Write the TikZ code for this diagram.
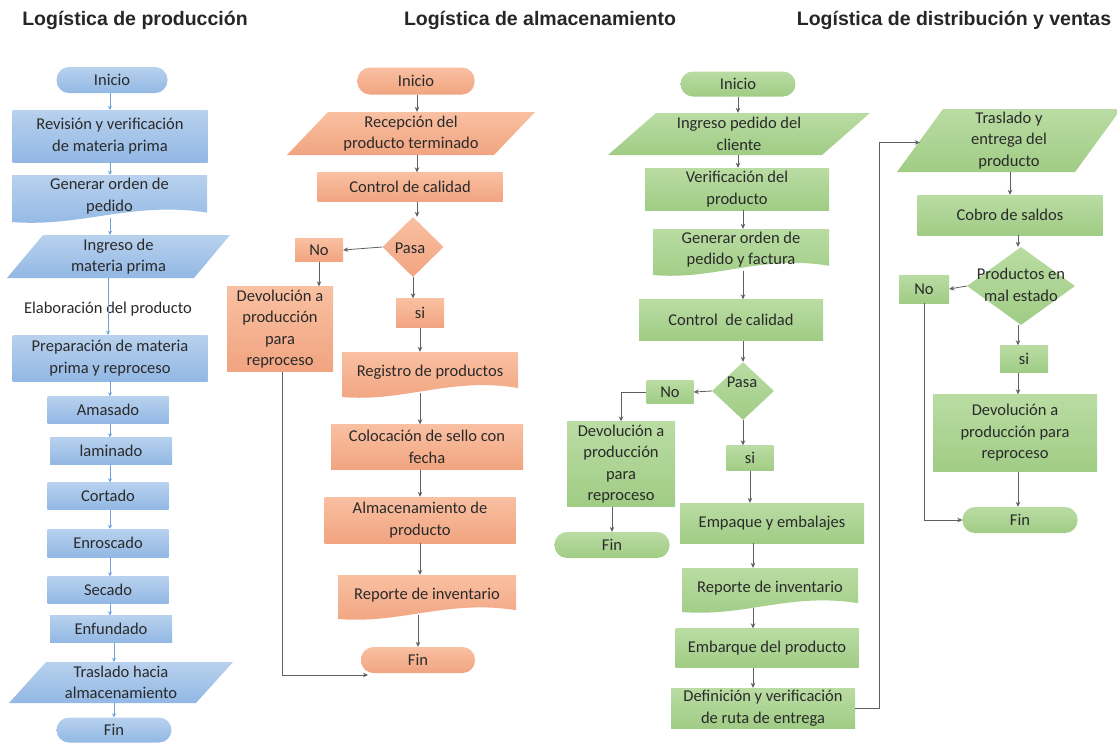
\documentclass[tikz,border=0pt]{standalone}
\usepackage{fontspec}
\setmainfont{Carlito}
\newfontfamily\titlefont{Liberation Sans}
\usetikzlibrary{shapes.geometric,arrows.meta,calc}
\definecolor{bluetop}{RGB}{184,209,238}
\definecolor{bluebot}{RGB}{146,184,228}
\definecolor{orgtop}{RGB}{249,192,162}
\definecolor{orgbot}{RGB}{241,164,128}
\definecolor{grntop}{RGB}{186,220,163}
\definecolor{grnbot}{RGB}{160,204,133}
\definecolor{txt}{RGB}{42,42,42}
\definecolor{lnk}{RGB}{95,95,95}
\definecolor{bluelnk}{RGB}{110,160,220}
\newcommand\mypara[8]{% name x0 y0 x1 y1 slant style text
  \shade[#7] ({#2+#6},#3) -- (#4,#3) -- ({#4-#6},#5) -- (#2,#5) -- cycle;
  \node[box,minimum width={#4-#2-#6},minimum height={#5-#3}] (#1) at ({(#2+#4)/2},{(#3+#5)/2}) {#8};}
\newcommand\mydoc[7]{% name x0 y0 x1 y1 style text
  \shade[#6] (#2,#3) -- (#4,#3) -- (#4,{#5-0.2*(#5-#3)})
    .. controls ({#2+0.62*(#4-#2)},{#5-0.45*(#5-#3)}) and ({#2+0.35*(#4-#2)},{#5+0.12*(#5-#3)}) .. (#2,#5) -- cycle;
  \node[box,minimum width={#4-#2},minimum height={0.9*(#5-#3)}] (#1) at ({(#2+#4)/2},{#3+0.45*(#5-#3)}) {#7};}
\begin{document}
\begin{tikzpicture}[x=1pt,y=-1pt,
  box/.style={rectangle,inner sep=0pt,align=center,text=txt,font=\fontsize{16.5}{21.5}\selectfont},
  bluef/.style={top color=bluetop,bottom color=bluebot},
  orgf/.style={top color=orgtop,bottom color=orgbot},
  grnf/.style={top color=grntop,bottom color=grnbot},
  rbox/.style={box,minimum width=#1},
  term/.style={box,rounded corners=12.5pt,minimum height=26,minimum width=#1},
  dia/.style={diamond,inner sep=0pt,aspect=1},
  ttl/.style={font=\titlefont\fontsize{19.5}{23}\selectfont\bfseries,text=black!85,inner sep=0pt},
  arr/.style={draw=lnk,line width=0.8pt,-{Stealth[length=5pt,width=4.5pt,fill=black]}},
  barr/.style={draw=bluelnk,line width=0.7pt,-{Stealth[length=4pt,width=4pt]}}]
\useasboundingbox (0,0) rectangle (1117,744);
\fill[white] (0,0) rectangle (1117,744);

% titles
\node[ttl] (t1) at (135,20) {Logística de producción};
\node[ttl] (t2) at (540,20) {Logística de almacenamiento};
\node[ttl] (t3) at (954,20) {Logística de distribución y ventas};

% ---------- column 1 (blue) ----------
\node[term=111,bluef] (i1) at (112,80) {Inicio};
\node[rbox=195,minimum height=52,bluef] (b1) at (110,136) {Revisión y verificación\\de materia prima};
\mydoc{b2}{12}{175}{207}{222}{bluef}{Generar orden de\\pedido}
\mypara{b3}{7}{235}{230}{278}{36}{bluef}{Ingreso de\\materia prima}
\node[box] (el) at (108,309) {Elaboración del producto};
\node[rbox=195,minimum height=46,bluef] (b4) at (110,358) {Preparación de materia\\prima y reproceso};
\node[rbox=121,minimum height=27,bluef] (b5) at (108,410) {Amasado};
\node[rbox=122,minimum height=27,bluef] (b6) at (111,451) {laminado};
\node[rbox=121,minimum height=27,bluef] (b7) at (108,496) {Cortado};
\node[rbox=121,minimum height=28,bluef] (b8) at (108,543) {Enroscado};
\node[rbox=121,minimum height=27,bluef] (b9) at (108,590) {Secado};
\node[rbox=122,minimum height=27,bluef] (b10) at (111,629) {Enfundado};
\mypara{b11}{9}{662}{233}{703}{37}{bluef}{Traslado hacia\\almacenamiento}
\node[term=115,minimum height=25,bluef] (f1) at (114,730) {Fin};

\coordinate (cx1) at (110,0);
\draw[barr] (i1.south -| cx1) -- (b1.north -| cx1);
\draw[barr] (b1.south -| cx1) -- (b2.north -| cx1);
\draw[barr] (b2.south -| cx1) -- (b3.north -| cx1);
\draw[barr] (b3.south -| el) -- (b4.north -| el);
\draw[barr] (b4.south -| cx1) -- (b5.north -| cx1);
\draw[barr] (b5.south -| cx1) -- (b6.north -| cx1);
\draw[barr] (b6.south -| cx1) -- (b7.north -| cx1);
\draw[barr] (b7.south -| cx1) -- (b8.north -| cx1);
\draw[barr] (b8.south -| cx1) -- (b9.north -| cx1);
\draw[barr] (b9.south -| cx1) -- (b10.north -| cx1);
\draw[barr] (b10.south -| f1) -- (b11.north -| f1);
\draw[barr] (b11.south -| f1) -- (f1.north);

% ---------- column 2 (orange) ----------
\node[term=117,minimum height=27,orgf] (i2) at (416,81) {Inicio};
\mypara{o1}{287}{112}{535}{155}{41}{orgf}{Recepción del\\producto terminado}
\node[rbox=185,minimum height=29,orgf] (o2) at (410,187) {Control de calidad};
\node[dia,minimum width=61,minimum height=60,orgf] (o3) at (413,247) {};
\node[box] (o3t) at (410,248) {Pasa};
\node[rbox=48,minimum height=23,orgf] (o4) at (319,250) {No};
\node[rbox=106,minimum height=85,orgf] (o5) at (280,329) {Devolución a\\producción\\para\\reproceso};
\node[rbox=48,minimum height=29,orgf] (o6) at (420,313) {si};
\mydoc{o7}{342}{352}{518}{397}{orgf}{Registro de productos}
\node[rbox=192,minimum height=45,orgf] (o8) at (427,447) {Colocación de sello con\\fecha};
\node[rbox=191,minimum height=46,orgf] (o9) at (420,520) {Almacenamiento de\\producto};
\mydoc{o10}{338}{575}{516}{619}{orgf}{Reporte de inventario}
\node[term=114,orgf] (f2) at (418,660) {Fin};

\coordinate (cx2) at (417,0);
\coordinate (f2e) at (368,675);
\draw[arr] (i2.south -| cx2) -- (o1.north -| cx2);
\draw[arr] (o1.south -| cx2) -- (o2.north -| cx2);
\draw[arr] (o2.south -| cx2) -- (o3.north -| cx2);
\draw[arr] (o3.west) -- (o4.east);
\draw[arr] (o4.south) -- (o4.south |- o5.north);
\draw[arr] (o3.south) -- (o3.south |- o6.north);
\draw[arr] (o6.south) -- (o6.south |- o7.north);
\draw[arr] (o7.south -| o6) -- (o8.north -| o6);
\draw[arr] (o8.south -| o6) -- (o9.north -| o6);
\draw[arr] (o9.south -| o6) -- (o10.north -| o6);
\draw[arr] (o10.south -| f2) -- (f2.north);
\draw[arr] ([xshift=2pt]o5.south) |- (f2e);

% ---------- column 3 (green) ----------
\node[term=115,minimum height=25,grnf] (i3) at (738,84) {Inicio};
\mypara{g1}{608}{113}{870}{155}{48}{grnf}{Ingreso pedido del\\cliente}
\node[rbox=184,minimum height=42,grnf] (g2) at (737,189) {Verificación del\\producto};
\mydoc{g3}{653}{229}{829}{275}{grnf}{Generar orden de\\pedido y factura}
\node[rbox=184,minimum height=41,grnf] (g4) at (731,320) {Control\ \ de calidad};
\node[dia,minimum width=62,minimum height=58,grnf] (g5) at (743,391) {};
\node[box] (g5t) at (742,382) {Pasa};
\node[rbox=47,minimum height=23,grnf] (g6) at (670,392) {No};
\node[rbox=108,minimum height=85,grnf] (g7) at (621,464) {Devolución a\\producción\\para\\reproceso};
\node[term=115,grnf] (f3) at (612,545) {Fin};
\node[rbox=47,minimum height=25,grnf] (g8) at (750,458) {si};
\node[rbox=184,minimum height=40,grnf] (g9) at (772,523) {Empaque y embalajes};
\mydoc{g10}{682}{568}{858}{612}{grnf}{Reporte de inventario}
\node[rbox=183,minimum height=39,grnf] (g11) at (767,648) {Embarque del producto};
\node[rbox=184,minimum height=40,grnf] (g12) at (763,708) {Definición y verificación\\de ruta de entrega};

\coordinate (cx3) at (753,0);
\draw[arr] (i3.south) -- (i3.south |- g1.north);
\draw[arr] (g1.south -| i3) -- (g2.north -| i3);
\draw[arr] (g2.south -| g5) -- (g3.north -| g5);
\draw[arr] (g3.south -| g5) -- (g4.north -| g5);
\draw[arr] (g4.south -| g5) -- (g5.north);
\draw[arr] (g5.west) -- (g6.east);
\draw[arr] (g6.west) -| (g7.north);
\draw[arr] (g7.south -| f3) -- (f3.north);
\draw[arr] (g5.south) -- (g5.south |- g8.north);
\draw[arr] (g8.south) -- (g8.south |- g9.north);
\draw[arr] (g9.south -| cx3) -- (g10.north -| cx3);
\draw[arr] (g10.south -| cx3) -- (g11.north -| cx3);
\draw[arr] (g11.south -| cx3) -- (g12.north -| cx3);

% ---------- column 4 (green) ----------
\mypara{g13}{897}{109}{1121}{172}{46}{grnf}{Traslado y\\entrega del\\producto}
\coordinate (g13w) at ($(g13.west)+(0,2)$);
\node[rbox=185,minimum height=40,grnf] (g14) at (1010,215) {Cobro de saldos};
\node[dia,minimum width=108,minimum height=78,grnf] (g15) at (1021,286) {};
\node[box] (g15t) at (1021,285) {Productos en\\mal estado};
\node[rbox=50,minimum height=28,grnf] (g16) at (924,289) {No};
\node[rbox=48,minimum height=27,grnf] (g17) at (1024,359) {si};
\node[rbox=164,minimum height=77,grnf] (g18) at (1015,433) {Devolución a\\producción para\\reproceso};
\node[term=115,grnf] (f4) at (1020,520) {Fin};

\draw[arr] (g12.east) -- ++(24,0) |- (g13w);
\coordinate (cx4) at (1018,0);
\draw[arr] (g13.south -| g14) -- (g14.north -| g14);
\draw[arr] (g14.south -| cx4) -- (g15.north -| cx4);
\draw[arr] (g15.west) -- (g16.east);
\draw[arr] (g15.south -| cx4) -- (g17.north -| cx4);
\draw[arr] (g17.south -| cx4) -- (g18.north -| cx4);
\draw[arr] (g18.south -| cx4) -- (f4.north -| cx4);
\draw[arr] (g16.south) |- (f4.west);
\end{tikzpicture}
\end{document}
